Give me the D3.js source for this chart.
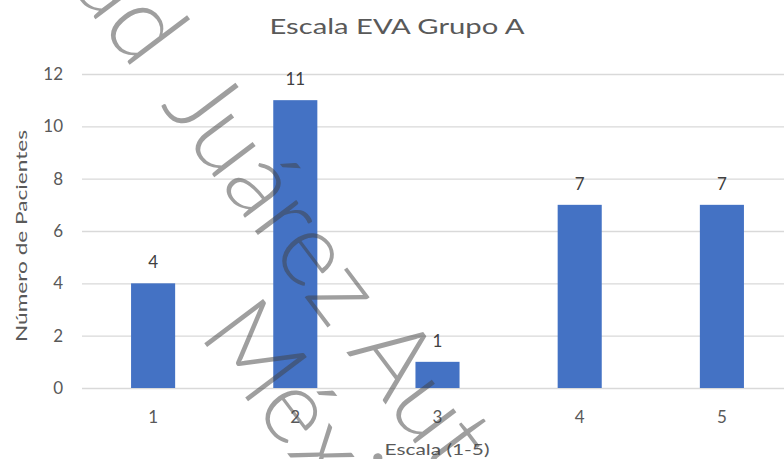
<!DOCTYPE html>
<html>
<head>
<meta charset="utf-8">
<script src="https://cdn.jsdelivr.net/npm/d3@7"></script>
<style>
  body { margin: 0; background: #fff; }
  svg { display: block; font-family: Lato, "Open Sans", sans-serif; }
</style>
</head>
<body>
<div id="chart"></div>
<script>
const categories = ["1", "2", "3", "4", "5"];
const patients = [4, 11, 1, 7, 7];
const yTicks = [0, 2, 4, 6, 8, 10, 12];

const W = 784, H = 459;
const margin = { top: 74, right: -9, bottom: 71, left: 82 };
const width = W - margin.left - margin.right;
const height = H - margin.top - margin.bottom;

const svg = d3.select("#chart").append("svg")
    .attr("width", W)
    .attr("height", H);

const g = svg.append("g")
    .attr("transform", `translate(${margin.left},${margin.top})`);

const x = d3.scaleBand()
    .domain(categories)
    .range([0, width])
    .paddingInner(0.69)
    .paddingOuter(0.345);

const y = d3.scaleLinear()
    .domain([0, 12])
    .range([height, 0]);

// gridlines
g.append("g")
    .selectAll("line")
    .data(yTicks)
    .join("line")
    .attr("x1", 0)
    .attr("x2", width)
    .attr("y1", d => y(d) + 0.5)
    .attr("y2", d => y(d) + 0.5)
    .attr("stroke", "#d9d9d9")
    .attr("stroke-width", 1.3);

// y tick labels
g.append("g")
    .selectAll("text")
    .data(yTicks)
    .join("text")
    .attr("x", -19)
    .attr("y", d => y(d))
    .attr("dy", "0.36em")
    .attr("text-anchor", "end")
    .attr("fill", "#595959")
    .attr("font-size", 17)
    .text(d => d);

// bars
g.append("g")
    .selectAll("rect")
    .data(patients)
    .join("rect")
    .attr("x", (d, i) => x(categories[i]))
    .attr("y", d => y(d))
    .attr("width", x.bandwidth())
    .attr("height", d => y(0) - y(d))
    .attr("fill", "#4472c4");

// data labels
g.append("g")
    .selectAll("text")
    .data(patients)
    .join("text")
    .attr("x", (d, i) => x(categories[i]) + x.bandwidth() / 2)
    .attr("y", d => y(d) - 15)
    .attr("text-anchor", "middle")
    .attr("fill", "#404040")
    .attr("font-size", 17)
    .text(d => d);

// x tick labels
g.append("g")
    .selectAll("text")
    .data(categories)
    .join("text")
    .attr("x", d => x(d) + x.bandwidth() / 2)
    .attr("y", height + 35)
    .attr("text-anchor", "middle")
    .attr("fill", "#595959")
    .attr("font-size", 17)
    .text(d => d);

// title
svg.append("text")
    .attr("x", 397)
    .attr("y", 34)
    .attr("text-anchor", "middle")
    .attr("fill", "#595959")
    .attr("font-size", 21)
    .attr("textLength", 255)
    .attr("lengthAdjust", "spacingAndGlyphs")
    .text("Escala EVA Grupo A");

// axis titles
svg.append("text")
    .attr("x", 437)
    .attr("y", 455)
    .attr("text-anchor", "middle")
    .attr("fill", "#595959")
    .attr("font-size", 15)
    .attr("textLength", 105)
    .attr("lengthAdjust", "spacingAndGlyphs")
    .text("Escala (1-5)");

svg.append("text")
    .attr("transform", "translate(27,236) rotate(-90)")
    .attr("text-anchor", "middle")
    .attr("fill", "#595959")
    .attr("font-size", 15)
    .attr("textLength", 212)
    .attr("lengthAdjust", "spacingAndGlyphs")
    .text("Número de Pacientes");

// watermark
const wm = svg.append("g")
    .attr("transform", "translate(160,105) rotate(53)")
    .attr("font-size", 104)
    .attr("font-weight", 300)
    .attr("fill", "#404040")
    .attr("fill-opacity", 0.5);

wm.append("text")
    .attr("x", -42)
    .attr("text-anchor", "end")
    .text("Universidad");
wm.append("text")
    .text("Juárez Autónoma de Tabasco");
wm.append("text")
    .attr("x", 206)
    .attr("y", 108)
    .text("México");
</script>
</body>
</html>
